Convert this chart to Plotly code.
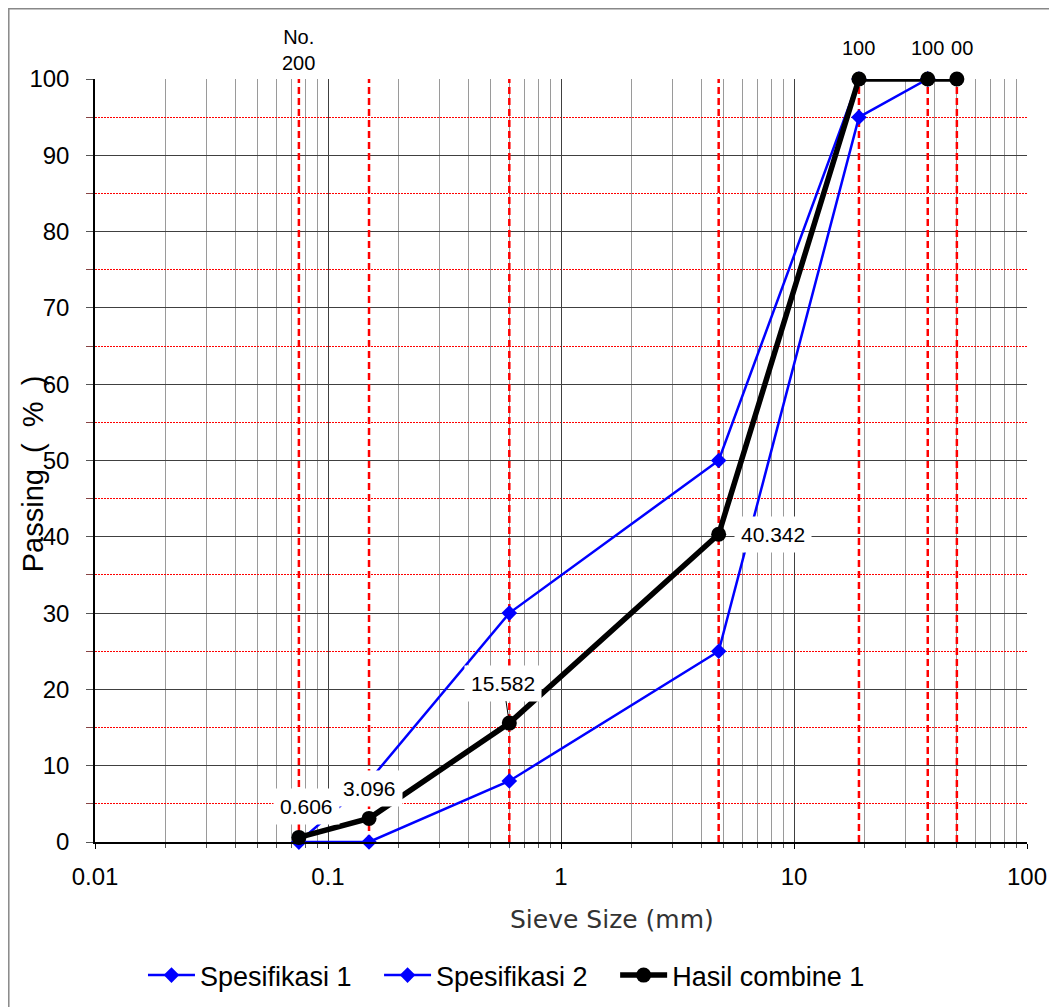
import numpy as np
import plotly.graph_objects as go

# ---- data ----
sieve_sizes = [0.075, 0.15, 0.6, 4.75, 19, 37.5, 50]
spec1_sizes = [0.075, 0.15, 0.6, 4.75, 19, 37.5]
spec1_values = [0, 8, 30, 50, 100, 100]
spec2_sizes = [0.075, 0.15, 0.6, 4.75, 19, 37.5]
spec2_values = [0, 0, 8, 25, 95, 100]
combine_values = [0.606, 3.096, 15.582, 40.342, 100, 100, 100]
x_tick_vals = [0.01, 0.1, 1, 10, 100]
x_tick_text = ["0.01", "0.1", "1", "10", "100"]
minor_x_vals = [k * 10.0 ** d for d in range(-2, 2) for k in range(2, 10)]

FONT = "Liberation Sans, Arial, sans-serif"
BLUE = "#0000FF"
PAD = "\u00a0\u00a0\u00a0"

fig = go.Figure()

# red dashed vertical sieve lines
vx, vy = [], []
for s in sieve_sizes:
    vx += [s, s, None]
    vy += [0, 100, None]
fig.add_trace(go.Scatter(x=vx, y=vy, mode="lines", showlegend=False, hoverinfo="skip",
                         line=dict(color="#FF0000", width=2.5, dash="7px,4px")))

fig.add_trace(go.Scatter(x=spec1_sizes, y=spec1_values, mode="lines+markers", name="Spesifikasi 1" + PAD,
                         line=dict(color=BLUE, width=2.5),
                         marker=dict(symbol="diamond", size=12, color=BLUE), cliponaxis=False))
fig.add_trace(go.Scatter(x=spec2_sizes, y=spec2_values, mode="lines+markers", name="Spesifikasi 2" + PAD,
                         line=dict(color=BLUE, width=2.5),
                         marker=dict(symbol="diamond", size=12, color=BLUE), cliponaxis=False))
fig.add_trace(go.Scatter(x=sieve_sizes, y=combine_values, mode="lines+markers", name="Hasil combine 1",
                         line=dict(color="black", width=5.5),
                         marker=dict(symbol="circle", size=15, color="black"), cliponaxis=False))

annotations = []
# data labels for combine series
label_offsets = {0: (8, 31), 1: (0, 30), 3: (54, 0)}
for i, (s, v) in enumerate(zip(sieve_sizes, combine_values)):
    txt = f"{v:g}"
    if i == 2:
        annotations.append(dict(x=np.log10(s), y=v, xref="x", yref="y", text=txt,
                                showarrow=True, arrowhead=0, arrowwidth=1, arrowcolor="black",
                                ax=-6, ay=-40, standoff=7, bgcolor="white", borderpad=6,
                                font=dict(family=FONT, size=21, color="black")))
    elif i in label_offsets:
        dx, dy = label_offsets[i]
        annotations.append(dict(x=np.log10(s), y=v, xref="x", yref="y", text=txt,
                                showarrow=False, xshift=dx, yshift=dy, bgcolor="white", borderpad=6,
                                font=dict(family=FONT, size=21, color="black")))
# top "100" labels (order so that the middle one is drawn on top)
for i in [4, 6, 5]:
    annotations.append(dict(x=np.log10(sieve_sizes[i]), y=combine_values[i], xref="x", yref="y",
                            text=f"{combine_values[i]:g}", showarrow=False, yshift=31,
                            bgcolor="white", borderpad=6,
                            font=dict(family=FONT, size=20, color="black")))
# No. 200 label
annotations.append(dict(x=np.log10(sieve_sizes[0]), y=100, xref="x", yref="y", text="No.<br>200",
                        showarrow=False, yanchor="bottom", yshift=3,
                        font=dict(family=FONT, size=20, color="black")))
# axis titles
annotations.append(dict(x=0.555, y=-0.101, xref="paper", yref="paper", text="Sieve Size (mm)",
                        xanchor="center", yanchor="middle",
                        showarrow=False, font=dict(family="DejaVu Sans", size=25, color="#333333")))
annotations.append(dict(x=-0.0665, y=0.482, xref="paper", yref="paper", text="Passing  (  %  )",
                        xanchor="center", yanchor="middle",
                        showarrow=False, textangle=-90,
                        font=dict(family=FONT, size=29, color="black")))

fig.update_layout(
    width=1057, height=1007,
    margin=dict(l=87, r=38, t=71, b=173),
    paper_bgcolor="white", plot_bgcolor="white",
    font=dict(family=FONT, color="black"),
    annotations=annotations,
    showlegend=True,
    legend=dict(orientation="h", x=0.4415, xanchor="center", y=-0.175, yanchor="middle",
                font=dict(family=FONT, size=27, color="black"), itemwidth=47,
                bgcolor="rgba(0,0,0,0)"),
    shapes=[dict(type="path", xref="paper", yref="paper",
                 path="M -0.0925,-0.4 L -0.0925,1.092 L 1.2,1.092",
                 line=dict(color="#888888", width=1.5))],
)

fig.update_xaxes(
    type="log", range=[-2, 2],
    tickmode="array", tickvals=x_tick_vals, ticktext=x_tick_text,
    tickfont=dict(family=FONT, size=24, color="black"),
    ticks="outside", ticklen=5, tickcolor="black", ticklabelstandoff=7,
    showgrid=True, gridcolor="#404040", gridwidth=1,
    showline=True, linecolor="black", linewidth=1.5,
    zeroline=False,
    minor=dict(tickmode="array", tickvals=minor_x_vals, showgrid=True, gridcolor="#9a9a9a",
               gridwidth=1, ticks="outside", ticklen=4, tickcolor="#555555"),
)
fig.update_yaxes(
    range=[0, 100], tickmode="linear", tick0=0, dtick=10,
    tickfont=dict(family=FONT, size=24, color="black"),
    ticks="outside", ticklen=7, tickcolor="#555555", ticklabelstandoff=12,
    showgrid=True, gridcolor="#404040", gridwidth=1,
    showline=True, linecolor="black", linewidth=1.5,
    zeroline=False,
    minor=dict(dtick=5, tick0=0, showgrid=True, gridcolor="#FF0000", griddash="2px,1px", gridwidth=1,
               ticks="outside", ticklen=7, tickcolor="#884444"),
)

fig.write_html("out.html")
